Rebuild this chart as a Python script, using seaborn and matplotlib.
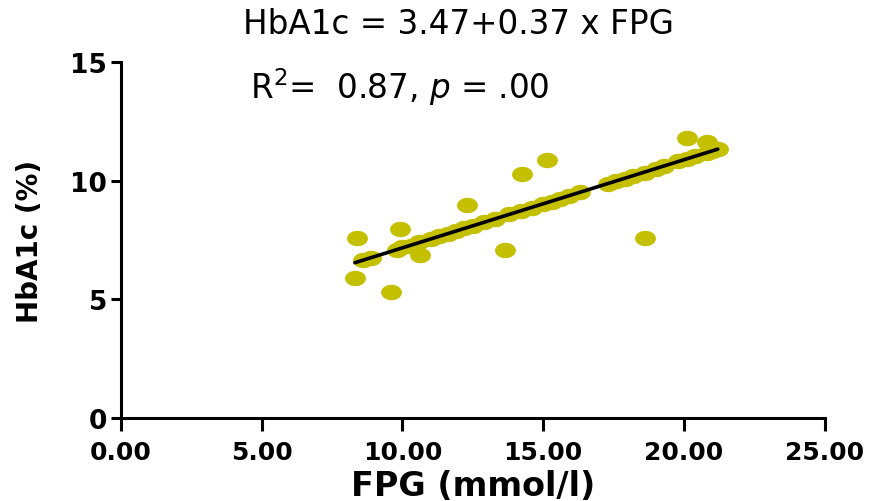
import numpy as np
import pandas as pd
import matplotlib
matplotlib.use("Agg")
import matplotlib.pyplot as plt
from matplotlib.path import Path
import seaborn as sns

# FPG (mmol/l) and HbA1c (%)
fpg = [8.31, 8.40, 9.61, 9.91, 10.62, 12.31, 13.64, 14.23, 15.12, 18.63, 20.12, 20.80,
       8.6, 8.9, 9.8, 10.0, 10.3, 10.6, 11.0, 11.3, 11.6, 11.9, 12.2, 12.5, 12.9, 13.3,
       13.8, 14.2, 14.6, 15.0, 15.3, 15.6, 15.9, 16.3, 17.3, 17.6, 17.9, 18.2, 18.6,
       19.0, 19.3, 19.8, 20.1, 20.4, 20.8, 21.0, 21.2]
hba1c = [5.90, 7.57, 5.30, 7.96, 6.87, 8.98, 7.08, 10.28, 10.87, 7.59, 11.80, 11.62,
         6.66, 6.76, 7.10, 7.19, 7.26, 7.42, 7.55, 7.66, 7.74, 7.88, 7.99, 8.08, 8.26, 8.38,
         8.58, 8.74, 8.86, 9.03, 9.12, 9.25, 9.34, 9.51, 9.86, 9.99, 10.08, 10.21, 10.34,
         10.51, 10.60, 10.81, 10.90, 11.03, 11.16, 11.25, 11.33]

x_ticks = [0, 5, 10, 15, 20, 25]
y_ticks = [0, 5, 10, 15]

df = pd.DataFrame({"FPG": fpg, "HbA1c": hba1c})

sns.set_style("ticks")
plt.rcParams["font.family"] = ["DejaVu Sans"]
plt.rcParams["text.color"] = "black"
plt.rcParams["axes.labelcolor"] = "black"
plt.rcParams["xtick.color"] = "black"
plt.rcParams["ytick.color"] = "black"

# the original is stretched sideways, so the dots are little ellipses
t = np.linspace(0, 2 * np.pi, 60)
ellipse = Path(np.column_stack([np.cos(t), 0.74 * np.sin(t)]), closed=True)

fig = plt.figure(figsize=(8.7, 5.02), dpi=100)
ax = fig.add_axes([0.139, 0.165, 0.809, 0.7095])

sns.scatterplot(data=df, x="FPG", y="HbA1c", marker=ellipse, s=225,
                color="#C4C000", linewidth=0, ax=ax, zorder=2)
sns.regplot(data=df, x="FPG", y="HbA1c", scatter=False, ci=None, ax=ax,
            line_kws={"color": "black", "lw": 2.6, "zorder": 3})

ax.set_xlim(0, 25)
ax.set_ylim(0, 15)
ax.set_xticks(x_ticks)
ax.set_xticklabels([f"{v:.2f}" for v in x_ticks])
ax.set_yticks(y_ticks)
ax.set_yticklabels([str(v) for v in y_ticks])
for lab in ax.get_xticklabels() + ax.get_yticklabels():
    lab.set_fontweight("bold")
ax.tick_params(axis="x", length=9, width=2.2, labelsize=18, pad=7)
ax.tick_params(axis="y", length=7, width=2.2, labelsize=19, pad=3)
for s in ["left", "bottom"]:
    ax.spines[s].set_linewidth(2.2)
    ax.spines[s].set_color("black")
sns.despine(ax=ax)

ax.set_xlabel("FPG (mmol/l)", fontsize=24, fontweight="bold", labelpad=3)
ax.set_ylabel("HbA1c (%)", fontsize=20, fontweight="bold", labelpad=19)

fig.text(0.527, 0.952, "HbA1c = 3.47+0.37 x FPG", ha="center", va="center", fontsize=23.5)
fig.text(0.287, 0.827, r"R$^2$=  0.87, $\it{p}$ = .00", ha="left", va="center", fontsize=23.5)

fig.savefig("out.png", dpi=100)
